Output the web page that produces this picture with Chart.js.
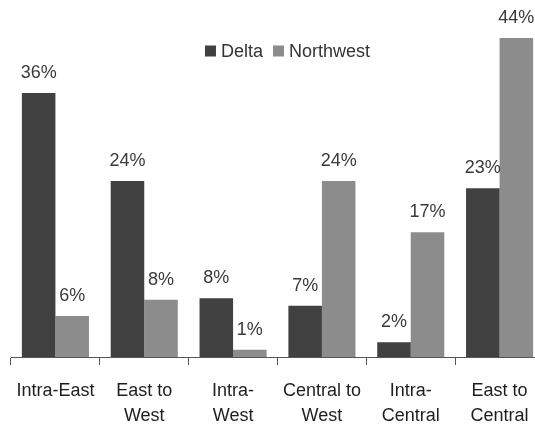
<!DOCTYPE html>
<html><head><meta charset="utf-8">
<script src="https://cdn.jsdelivr.net/npm/chart.js@4.4.1/dist/chart.umd.min.js"></script>
<style>
html,body{margin:0;padding:0;background:#fff;overflow:hidden;width:535px;height:429px}
#wrap{width:545px;height:429px}
</style>
</head><body><div id="wrap"><canvas id="c" width="545" height="429"></canvas></div>
<script>
const categories = [['Intra-East'], ['East to', 'West'], ['Intra-', 'West'], ['Central to', 'West'], ['Intra-', 'Central'], ['East to', 'Central']];
const seriesNames = ['Delta', 'Northwest'];
const deltaValues = [36, 24, 8, 7, 2, 23];
const northwestValues = [5.6, 7.8, 1, 24, 17, 43.5];

const FONT = '"Liberation Sans", Arial, sans-serif';

const valueLabels = {
  id: 'valueLabels',
  afterDatasetsDraw(chart) {
    const ctx = chart.ctx;
    ctx.save();
    ctx.font = '18px ' + FONT;
    ctx.fillStyle = '#3a3a3a';
    ctx.textAlign = 'center';
    ctx.textBaseline = 'middle';
    chart.data.datasets.forEach((ds, i) => {
      chart.getDatasetMeta(i).data.forEach((bar, j) => {
        ctx.fillText(Math.round(ds.data[j]) + '%', bar.x, bar.y - 20);
      });
    });
    ctx.restore();
  }
};

const insideLegend = {
  id: 'insideLegend',
  afterDatasetsDraw(chart) {
    const ctx = chart.ctx;
    const box = 11, gap = 5, between = 10;
    ctx.save();
    ctx.font = '18px ' + FONT;
    ctx.textBaseline = 'middle';
    ctx.textAlign = 'left';
    const items = chart.data.datasets.map(ds => ({ text: ds.label, color: ds.backgroundColor, w: ctx.measureText(ds.label).width }));
    const total = items.reduce((s, it) => s + box + gap + it.w, 0) + between * (items.length - 1);
    const area = chart.chartArea;
    let x = (area.left + area.right) / 2 + 10 - total / 2;
    const cy = 52;
    items.forEach(it => {
      ctx.fillStyle = it.color;
      ctx.fillRect(x, cy - box / 2 - 1, box, box);
      x += box + gap;
      ctx.fillStyle = '#333';
      ctx.fillText(it.text, x, cy);
      x += it.w + between;
    });
    ctx.restore();
  }
};

new Chart(document.getElementById('c'), {
  type: 'bar',
  data: {
    labels: categories,
    datasets: [
      { label: seriesNames[0], data: deltaValues, backgroundColor: '#414141', borderWidth: 0 },
      { label: seriesNames[1], data: northwestValues, backgroundColor: '#8c8c8c', borderWidth: 0 }
    ]
  },
  options: {
    responsive: false,
    animation: false,
    devicePixelRatio: 1,
    layout: { padding: { left: 11, right: 1, top: 5, bottom: 0 } },
    datasets: { bar: { categoryPercentage: 0.755, barPercentage: 1 } },
    plugins: {
      legend: { display: false },
      tooltip: { enabled: false }
    },
    scales: {
      x: {
        grid: { display: true, drawOnChartArea: false, tickLength: 8, color: '#555', offset: true },
        border: { display: true, color: '#555', width: 1 },
        ticks: { color: '#1e1e1e', padding: 13, font: { family: FONT, size: 18, lineHeight: 1.4 }, maxRotation: 0, autoSkip: false },
        afterFit(s) { s.height = 72; }
      },
      y: { display: false, min: 0, max: 48 }
    }
  },
  plugins: [valueLabels, insideLegend]
});
</script>
</body></html>
